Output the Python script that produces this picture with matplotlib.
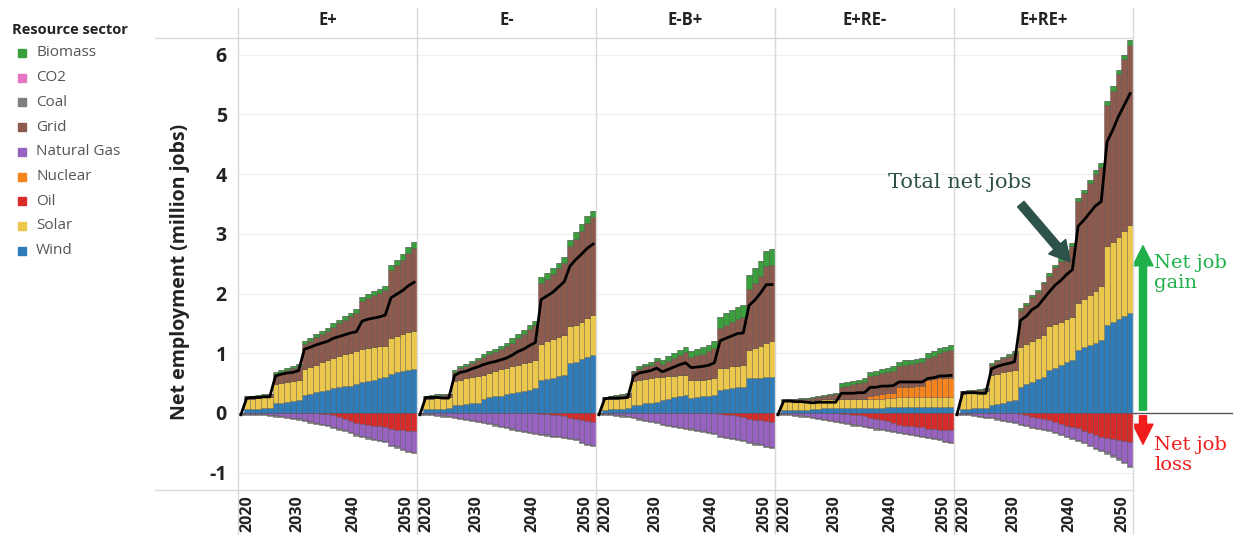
import numpy as np
import matplotlib.pyplot as plt
import matplotlib.transforms as mtransforms
from matplotlib.lines import Line2D
from matplotlib.patches import Rectangle, FancyArrowPatch

plt.rcParams['font.family'] = ['Open Sans', 'DejaVu Sans']
plt.rcParams['axes.unicode_minus'] = False

# ---- data (million jobs), one value per year 2020..2050 ----
years = np.arange(2020, 2051)
scenarios = ['E+', 'E-', 'E-B+', 'E+RE-', 'E+RE+']
year_ticks = [2020, 2030, 2040, 2050]

wind = {
    'E+':    [0, .06, .07, .07, .08, .09, .16, .17, .19, .20, .22, .30, .32, .35, .37, .39,
              .41, .43, .45, .46, .48, .52, .54, .56, .58, .60, .66, .68, .70, .72, .73],
    'E-':    [0, .06, .07, .07, .07, .08, .13, .14, .15, .16, .17, .24, .26, .28, .29, .31,
              .33, .35, .37, .39, .41, .55, .57, .59, .62, .64, .83, .86, .90, .94, .97],
    'E-B+':  [0, .05, .06, .06, .07, .08, .13, .14, .16, .17, .19, .22, .24, .26, .28, .30,
              .25, .26, .28, .29, .30, .39, .40, .42, .43, .44, .58, .58, .59, .60, .61],
    'E+RE-': [0, .05, .05, .05, .05, .05, .07, .07, .08, .08, .08, .09, .09, .09, .09, .09,
              .09, .09, .09, .10, .10, .10, .10, .10, .10, .10, .10, .10, .10, .10, .10],
    'E+RE+': [0, .07, .07, .08, .08, .08, .13, .15, .17, .20, .22, .44, .48, .52, .57, .61,
              .72, .76, .81, .85, .89, 1.06, 1.10, 1.14, 1.18, 1.22, 1.47, 1.52, 1.57, 1.62, 1.67],
}
solar = {
    'E+':    [0, .17, .17, .18, .18, .18, .33, .34, .33, .34, .34, .43, .45, .46, .48, .50,
              .51, .52, .53, .55, .56, .55, .55, .54, .54, .53, .59, .61, .62, .64, .65],
    'E-':    [0, .17, .17, .18, .18, .18, .41, .42, .43, .44, .45, .40, .41, .42, .44, .44,
              .45, .45, .46, .47, .47, .61, .63, .65, .66, .67, .62, .62, .63, .65, .67],
    'E-B+':  [0, .18, .18, .18, .18, .18, .40, .41, .41, .42, .42, .39, .38, .36, .35, .34,
              .30, .30, .28, .28, .28, .36, .36, .36, .36, .36, .48, .51, .54, .58, .59],
    'E+RE-': [0, .15, .15, .15, .15, .15, .15, .15, .15, .15, .15, .15, .15, .15, .15, .15,
              .15, .15, .15, .15, .15, .16, .16, .16, .16, .16, .16, .16, .16, .16, .16],
    'E+RE+': [0, .25, .26, .26, .27, .28, .51, .51, .51, .50, .50, .67, .68, .69, .69, .70,
              .73, .73, .72, .72, .72, .78, .81, .84, .87, .90, 1.32, 1.35, 1.38, 1.42, 1.48],
}
nuclear = {
    'E+':    [0] * 31,
    'E-':    [0] * 31,
    'E-B+':  [0] * 31,
    'E+RE-': [0, 0, 0, 0, 0, 0, 0, 0, 0, 0, 0, 0, 0, 0, 0, 0,
              .05, .06, .07, .08, .08, .17, .18, .18, .19, .19, .30, .31, .32, .32, .33],
    'E+RE+': [0] * 31,
}
grid = {
    'E+':    [0, .04, .04, .04, .04, .04, .16, .18, .20, .21, .23, .43, .44, .46, .47, .48,
              .52, .55, .58, .61, .64, .81, .84, .87, .89, .93, 1.14, 1.19, 1.25, 1.32, 1.38],
    'E-':    [0, .05, .05, .05, .05, .05, .15, .19, .21, .24, .27, .29, .31, .32, .34, .37,
              .40, .46, .49, .54, .59, 1.01, 1.04, 1.08, 1.14, 1.21, 1.34, 1.44, 1.52, 1.60, 1.64],
    'E-B+':  [0, .03, .04, .05, .05, .06, .15, .19, .21, .22, .26, .21, .25, .30, .34, .38,
              .39, .41, .43, .46, .50, .67, .72, .75, .79, .81, 1.01, 1.09, 1.17, 1.28, 1.28],
    'E+RE-': [0, .02, .03, .03, .04, .04, .03, .05, .06, .07, .09, .20, .22, .24, .26, .28,
              .33, .34, .36, .36, .38, .36, .37, .38, .39, .40, .36, .38, .42, .45, .47],
    'E+RE+': [0, .04, .04, .04, .04, .04, .17, .21, .24, .26, .29, .61, .65, .74, .77, .86,
              .85, .95, 1.02, 1.12, 1.19, 1.71, 1.78, 1.87, 1.96, 2.00, 2.36, 2.53, 2.73, 2.88, 3.02],
}
biomass = {
    'E+':    [0, .01, .01, .01, .01, .01, .03, .03, .03, .03, .03, .05, .05, .05, .05, .05,
              .06, .06, .06, .06, .06, .07, .07, .07, .07, .07, .09, .09, .10, .10, .10],
    'E-':    [0, .01, .01, .01, .01, .01, .03, .03, .03, .03, .03, .05, .05, .05, .05, .05,
              .07, .07, .07, .07, .07, .10, .10, .10, .10, .10, .11, .11, .11, .11, .11],
    'E-B+':  [0, .01, .01, .01, .01, .01, .03, .04, .04, .05, .05, .07, .08, .08, .09, .09,
              .10, .10, .11, .11, .12, .19, .19, .20, .20, .20, .24, .24, .25, .26, .26],
    'E+RE-': [0, .01, .01, .01, .01, .01, .01, .01, .01, .01, .01, .06, .06, .06, .06, .06,
              .07, .07, .07, .07, .07, .07, .07, .07, .07, .07, .08, .08, .08, .08, .08],
    'E+RE+': [0, .01, .01, .01, .01, .01, .02, .02, .02, .02, .02, .03, .03, .03, .03, .03,
              .04, .04, .04, .04, .04, .05, .05, .05, .06, .06, .07, .07, .07, .08, .08],
}
co2 = {s: [0] * 31 for s in scenarios}
# job losses (drawn below zero)
oil = {
    'E+':    [0, 0, 0, 0, 0, 0, 0, 0, 0, 0, 0, 0, 0, 0, .01, .02,
              .04, .07, .10, .13, .16, .19, .20, .21, .22, .23, .27, .28, .29, .30, .31],
    'E-':    [0, 0, 0, 0, 0, 0, 0, 0, 0, 0, 0, 0, 0, 0, 0, 0,
              0, 0, 0, 0, 0, .01, .02, .03, .04, .05, .08, .10, .12, .14, .15],
    'E-B+':  [0, 0, 0, 0, 0, 0, 0, 0, 0, 0, 0, 0, 0, 0, 0, 0,
              0, 0, 0, 0, 0, .02, .03, .04, .05, .06, .10, .11, .12, .14, .15],
    'E+RE-': [0, 0, 0, 0, 0, 0, 0, 0, 0, 0, 0, .01, .02, .03, .04, .05,
              .08, .10, .12, .14, .16, .20, .21, .22, .23, .24, .27, .27, .28, .28, .28],
    'E+RE+': [0, 0, 0, 0, 0, 0, 0, 0, 0, 0, 0, .02, .04, .06, .08, .10,
              .12, .15, .18, .21, .24, .26, .30, .34, .37, .41, .42, .44, .46, .47, .48],
}
gas = {
    'E+':    [0, .01, .01, .02, .02, .03, .04, .05, .06, .08, .09, .12, .14, .16, .17, .18,
              .19, .19, .19, .19, .20, .20, .21, .22, .23, .24, .26, .28, .31, .33, .34],
    'E-':    [0, .01, .02, .03, .04, .05, .07, .08, .10, .11, .13, .15, .17, .19, .21, .23,
              .26, .28, .30, .32, .34, .34, .34, .35, .35, .35, .34, .34, .36, .38, .39],
    'E-B+':  [0, .01, .02, .03, .04, .05, .07, .09, .11, .13, .15, .18, .20, .21, .23, .25,
              .26, .28, .30, .32, .34, .36, .37, .38, .38, .39, .39, .40, .40, .41, .42],
    'E+RE-': [0, .01, .02, .03, .04, .05, .07, .08, .10, .11, .13, .14, .15, .16, .16, .17,
              .16, .16, .15, .15, .14, .12, .13, .13, .14, .14, .13, .15, .16, .19, .21],
    'E+RE+': [0, .01, .02, .03, .05, .06, .07, .09, .11, .13, .15, .16, .16, .17, .17, .17,
              .17, .17, .17, .18, .18, .19, .19, .19, .21, .21, .24, .27, .30, .35, .40],
}
coal_row = [.03, .02, .02, .02, .02, .02, .02, .02, .02, .02, .02, .02, .02, .02, .02, .02,
            .02, .02, .02, .02, .02, .02, .02, .02, .02, .02, .02, .02, .02, .02, .02]
coal = {s: coal_row for s in scenarios}

colors = {
    'Biomass': '#3a9e3c', 'CO2': '#e377c2', 'Coal': '#7f7f7f', 'Grid': '#8d5b4e',
    'Natural Gas': '#9762c0', 'Nuclear': '#f5841f', 'Oil': '#d62b28',
    'Solar': '#ebc74c', 'Wind': '#2f7cb8',
}
legend_order = ['Biomass', 'CO2', 'Coal', 'Grid', 'Natural Gas', 'Nuclear', 'Oil', 'Solar', 'Wind']

# ---- figure ----
W, H = 1236, 535
fig = plt.figure(figsize=(W / 100, H / 100), dpi=100)

def fx(px):
    return px / W

def fy(py):
    return 1 - py / H

x0, x1 = 238, 1133
y_top, y_bot = 38, 490
pw = (x1 - x0) / 5
ylim = (-1.29, 6.28)
edge = (0.2, 0.2, 0.2, 0.55)
# small sideways nudges (pixels) so the rotated year labels sit inside each panel
label_shift = [7, -1, -3, -8]

axes = []
for i, s in enumerate(scenarios):
    ax = fig.add_axes([fx(x0 + i * pw), fy(y_bot), fx(pw), (y_bot - y_top) / H])
    axes.append(ax)
    pos = [('Wind', wind), ('Solar', solar), ('Nuclear', nuclear), ('Grid', grid),
           ('Biomass', biomass), ('CO2', co2)]
    neg = [('Oil', oil), ('Natural Gas', gas), ('Coal', coal)]
    base = np.zeros(len(years))
    for name, d in pos:
        v = np.array(d[s], dtype=float)
        ax.bar(years, v, bottom=base, width=1.0, color=colors[name],
               edgecolor=edge, linewidth=0.4)
        base += v
    nbase = np.zeros(len(years))
    for name, d in neg:
        v = np.array(d[s], dtype=float)
        ax.bar(years, -v, bottom=nbase, width=1.0, color=colors[name],
               edgecolor=edge, linewidth=0.4)
        nbase -= v
    net = base + nbase
    ax.plot(years, net, color='black', lw=2, zorder=5)

    ax.set_xlim(2019.5, 2050.5)
    ax.set_ylim(*ylim)
    ax.set_yticks(range(-1, 7))
    ax.grid(axis='y', color='#efefef', lw=0.8)
    ax.set_axisbelow(True)
    for sp in ax.spines.values():
        sp.set_visible(False)
    ax.set_xticks(year_ticks)
    ax.set_xticklabels([str(y) for y in year_ticks], rotation=90, fontsize=11.5,
                       fontweight='bold', color='#222')
    ax.tick_params(length=0, pad=4)
    for t, dx in zip(ax.get_xticklabels(), label_shift):
        t.set_transform(t.get_transform() +
                        mtransforms.ScaledTranslation(dx / 100, 0, fig.dpi_scale_trans))
    if i == 0:
        ax.tick_params(axis='y', labelsize=14, pad=8, labelcolor='#222')
        for t in ax.get_yticklabels():
            t.set_fontweight('bold')
    else:
        ax.tick_params(axis='y', labelleft=False)
    fig.text(fx(x0 + (i + 0.5) * pw), fy(20), s, ha='center', va='center',
             fontsize=12, fontweight='bold', color='#222')

# frame lines: separators, header and bottom rules
for i in range(6):
    xx = fx(x0 + i * pw)
    fig.add_artist(Line2D([xx, xx], [fy(8), fy(535)], color='#d8d8d8', lw=1))
fig.add_artist(Line2D([fx(155), fx(x1)], [fy(y_top), fy(y_top)], color='#d8d8d8', lw=1))
fig.add_artist(Line2D([fx(155), fx(x1)], [fy(y_bot), fy(y_bot)], color='#d8d8d8', lw=1))

fig.text(fx(180), fy(272), 'Net employment (million jobs)', rotation=90,
         ha='center', va='center', fontsize=14, fontweight='bold', color='#222')

# legend
fig.text(fx(12), fy(30), 'Resource sector', ha='left', va='center',
         fontsize=10.5, fontweight='bold', color='#222')
for k, name in enumerate(legend_order):
    yy = 53 + k * 24.7
    fig.add_artist(Rectangle((fx(18), fy(yy + 4)), fx(8), 8 / H,
                             color=colors[name], transform=fig.transFigure))
    fig.text(fx(36), fy(yy), name, ha='left', va='center', fontsize=11, color='#555')

# annotations on the right
serif = ['DejaVu Serif']
fig.add_artist(Line2D([fx(1133), fx(1232)], [fy(413), fy(413)], color='#555', lw=1))
fig.text(fx(960), fy(183), 'Total net jobs', ha='center', va='center',
         fontsize=15, family=serif, color='#2d4f4a')
fig.add_artist(FancyArrowPatch(
    (1019, H - 202), (1072, H - 264), transform=None,
    arrowstyle='simple,head_length=0.9,head_width=1.0,tail_width=0.38',
    mutation_scale=16, color='#2d5249'))
fig.add_artist(FancyArrowPatch(
    (1143, H - 413), (1143, H - 243), transform=None,
    arrowstyle='simple,head_length=0.9,head_width=0.9,tail_width=0.32',
    mutation_scale=16, color='#1fb04a'))
fig.add_artist(FancyArrowPatch(
    (1143, H - 413), (1143, H - 447), transform=None,
    arrowstyle='simple,head_length=0.9,head_width=0.9,tail_width=0.32',
    mutation_scale=16, color='#f01c1c'))
fig.text(fx(1154), fy(273), 'Net job\ngain', ha='left', va='center', fontsize=14,
         family=serif, color='#1fb04a', linespacing=1.2)
fig.text(fx(1154), fy(455), 'Net job\nloss', ha='left', va='center', fontsize=14,
         family=serif, color='#f01c1c', linespacing=1.2)

fig.savefig('out.png', dpi=100)
